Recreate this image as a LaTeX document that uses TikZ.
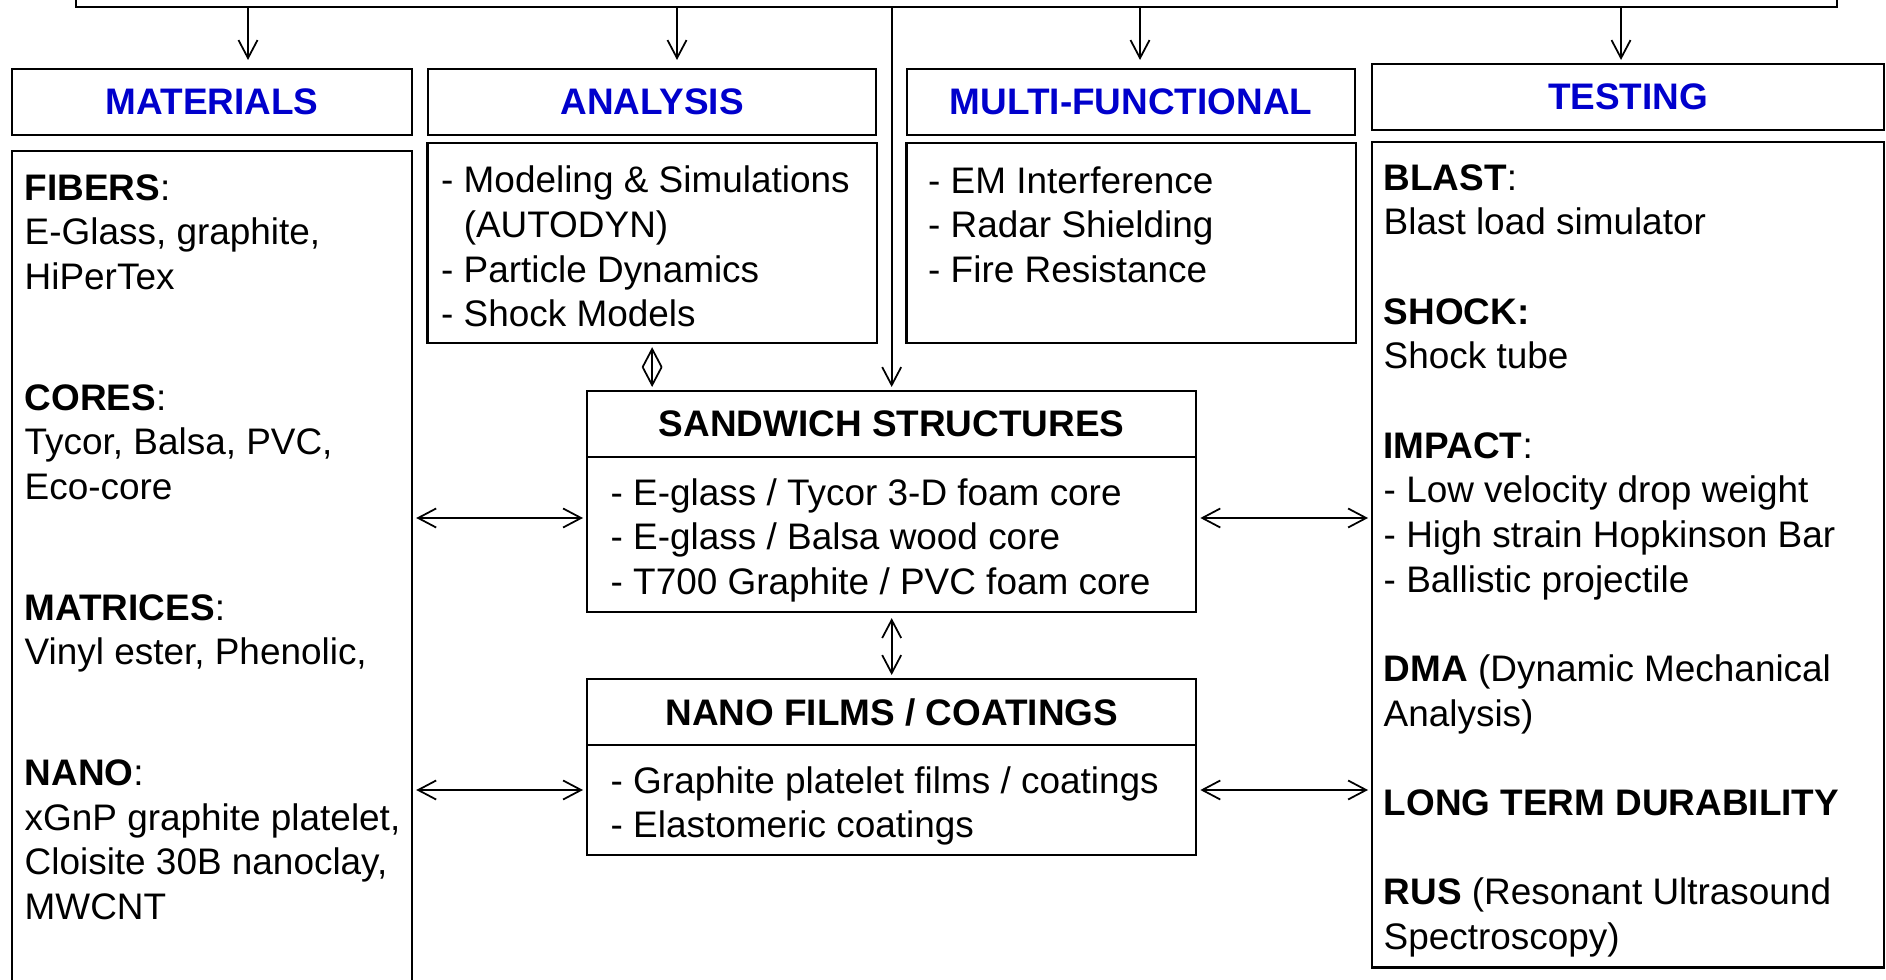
\documentclass[tikz,border=0pt]{standalone}
\usepackage{fontspec}
\setmainfont{Liberation Sans}
\usepackage{xcolor}
\usepackage{tikz}
\usetikzlibrary{arrows.meta,positioning,calc}
\definecolor{hdblue}{RGB}{0,0,204}

\begin{document}
\begin{tikzpicture}[x=0.01cm,y=-0.01cm,
    every node/.style={font=\fontsize{10.5pt}{12.7pt}\selectfont},
    box/.style={draw,line width=0.6pt,inner sep=0pt,outer sep=0pt},
    hdr/.style={box,minimum height=0.66cm,text=hdblue,font=\fontsize{10.5pt}{12.7pt}\selectfont\bfseries},
    title/.style={box,minimum height=0.66cm,font=\fontsize{10.5pt}{12.7pt}\selectfont\bfseries},
    body/.style={align=left,inner sep=0pt,anchor=north west},
    >={Straight Barb[length=0.18cm,width=0.19cm]},
    arr/.style={->,line width=0.5pt},
    dbl/.style={<->,line width=0.5pt,shorten <=0.04cm,shorten >=0.04cm}]
  \useasboundingbox (0,0) rectangle (1886,980);
  \clip (0,0) rectangle (1886,980);

  % Programme box, cut off at the top
  \node[box,anchor=south west,minimum width=17.6cm,minimum height=0.5cm] (prog) at (76,7) {};

  % Column headers
  \node[hdr,anchor=north west,minimum width=4cm] (mathd) at (12,69) {MATERIALS};
  \node[hdr,anchor=north west,minimum width=4.48cm] (anhd) at (428,69) {ANALYSIS};
  \node[hdr,anchor=north west,minimum width=4.48cm] (mfhd) at (907,69) {MULTI-FUNCTIONAL};
  \node[hdr,anchor=north west,minimum width=5.12cm] (tsthd) at (1372,64) {TESTING};

  % Column panels
  \node[box,below=0.16cm of mathd,minimum width=4cm,minimum height=9cm] (matbd) {};
  \node[box,below=0.08cm of anhd,minimum width=4.49cm,minimum height=2cm] (anbd) {};
  \node[box,below=0.08cm of mfhd,minimum width=4.49cm,minimum height=2cm] (mfbd) {};
  \node[box,below=0.12cm of tsthd,minimum width=5.12cm,minimum height=8.25cm] (tstbd) {};

  \node[body] (mattx) at ($(matbd.north west)+(12,17)$) {\strut\textbf{FIBERS}:\\ E-Glass, graphite,\\ HiPerTex\\[0.76cm]
    \textbf{CORES}:\\ Tycor, Balsa, PVC,\\ Eco-core\\[0.76cm]
    \textbf{MATRICES}:\\ Vinyl ester, Phenolic,\\[0.76cm]
    \textbf{NANO}:\\ xGnP graphite platelet,\\ Cloisite 30B nanoclay,\\ MWCNT};
  \node[body] (antx) at ($(anbd.north west)+(13,18)$) {\strut- Modeling \& Simulations\\ \phantom{- }(AUTODYN)\\ - Particle Dynamics\\ - Shock Models};
  \node[body] (mftx) at ($(mfbd.north west)+(21,18)$) {\strut- EM Interference\\ - Radar Shielding\\ - Fire Resistance};
  \node[body] (tsttx) at ($(tstbd.north west)+(11,16)$) {\strut\textbf{BLAST}:\\ Blast load simulator\\[0.447cm]
    \textbf{SHOCK:}\\ Shock tube\\[0.447cm]
    \textbf{IMPACT}:\\ - Low velocity drop weight\\ - High strain Hopkinson Bar\\ - Ballistic projectile\\[0.447cm]
    \textbf{DMA} (Dynamic Mechanical\\ Analysis)\\[0.447cm]
    \textbf{LONG TERM DURABILITY}\\[0.447cm]
    \textbf{RUS} (Resonant Ultrasound\\ Spectroscopy)};

  % Sandwich and nano boxes
  \node[title,anchor=north west,minimum width=6.09cm] (sandhd) at (587,391) {SANDWICH STRUCTURES};
  \node[box,below=0pt of sandhd,minimum width=6.09cm,minimum height=1.55cm] (sandbd) {};
  \node[title,anchor=north west,minimum width=6.09cm] (nanohd) at (587,679) {NANO FILMS / COATINGS};
  \node[box,below=0pt of nanohd,minimum width=6.09cm,minimum height=1.1cm] (nanobd) {};
  \node[body] (sandtx) at ($(sandbd.north west)+(23,16)$) {\strut- E-glass / Tycor 3-D foam core\\ - E-glass / Balsa wood core\\ - T700 Graphite / PVC foam core};
  \node[body] (nanotx) at ($(nanobd.north west)+(23,16)$) {\strut- Graphite platelet films / coatings\\ - Elastomeric coatings};

  % Feed lines
  \coordinate (f1) at (248,0);
  \coordinate (f2) at (677,0);
  \coordinate (f3) at (1140,0);
  \coordinate (f4) at (1621,0);
  \draw[arr,shorten >=0.09cm] (prog.south -| f1) -- (f1 |- mathd.north);
  \draw[arr,shorten >=0.09cm] (prog.south -| f2) -- (f2 |- anhd.north);
  \draw[arr,shorten >=0.09cm] (prog.south -| f3) -- (f3 |- mfhd.north);
  \draw[arr,shorten >=0.04cm] (prog.south -| f4) -- (f4 |- tsthd.north);
  \draw[arr,shorten >=0.04cm] (prog.south -| sandhd.north) -- (sandhd.north);

  % Links
  \coordinate (r1) at (0,518);
  \coordinate (r2) at (0,790);
  \draw[dbl] (anbd.south) -- (anbd.south |- sandhd.north);
  \draw[dbl,shorten <=0.06cm] (sandbd.south) -- (nanohd.north);
  \draw[dbl] (matbd.east |- r1) -- (sandbd.west |- r1);
  \draw[dbl] (sandbd.east |- r1) -- (tstbd.west |- r1);
  \draw[dbl] (matbd.east |- r2) -- (nanobd.west |- r2);
  \draw[dbl] (nanobd.east |- r2) -- (tstbd.west |- r2);
\end{tikzpicture}
\end{document}
